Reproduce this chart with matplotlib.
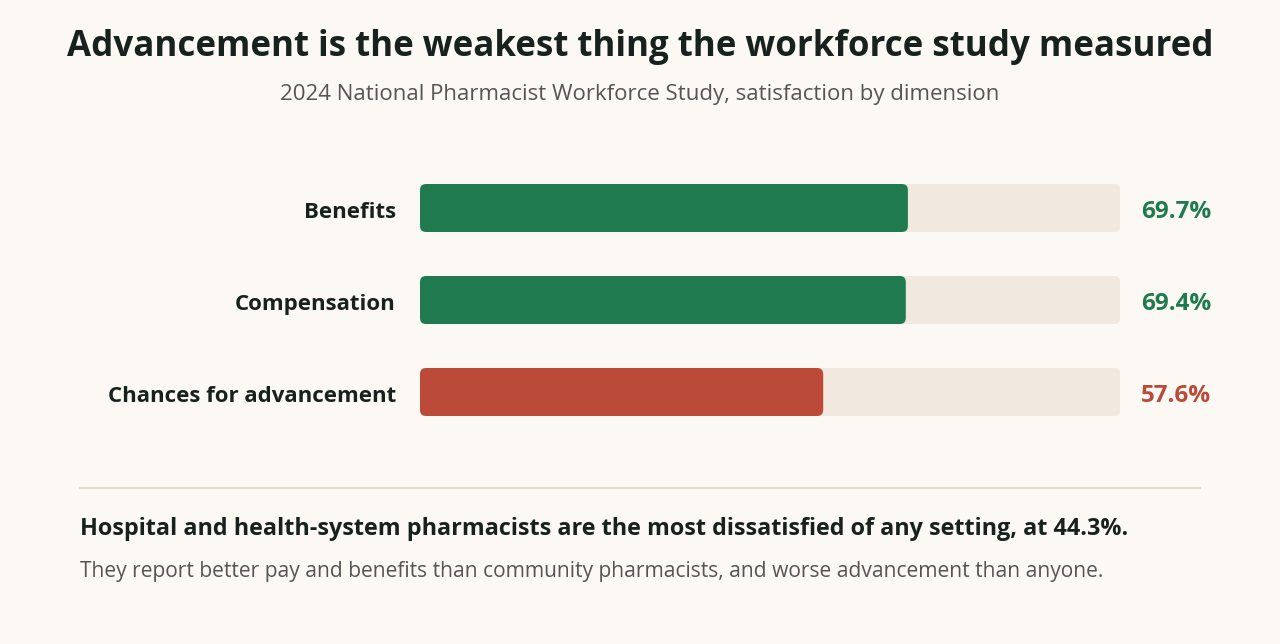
import matplotlib
matplotlib.use("Agg")
import matplotlib.pyplot as plt
from matplotlib.patches import FancyBboxPatch
from matplotlib.lines import Line2D

categories = ["Benefits", "Compensation", "Chances for advancement"]
values = [69.7, 69.4, 57.6]
value_labels = ["69.7%", "69.4%", "57.6%"]
highlight = [False, False, True]

title = "Advancement is the weakest thing the workforce study measured"
subtitle = "2024 National Pharmacist Workforce Study, satisfaction by dimension"
note_bold = "Hospital and health-system pharmacists are the most dissatisfied of any setting, at 44.3%."
note = "They report better pay and benefits than community pharmacists, and worse advancement than anyone."

BG = "#fcf9f4"
TRACK = "#f1e9e0"
GREEN = "#1f7a4f"
RED = "#bb4a39"
DARK = "#17221f"
GREY = "#555555"
RULE = "#e2dacb"

plt.rcParams["font.family"] = ["Open Sans", "DejaVu Sans"]

W, H = 1280, 644
fig = plt.figure(figsize=(W / 100, H / 100), dpi=100, facecolor=BG)

def px(x, y):
    return x / W, 1 - y / H

fig.text(*px(640, 56), title, ha="center", va="baseline", fontsize=25.1,
         fontweight="bold", color=DARK)
fig.text(*px(640, 100), subtitle, ha="center", va="baseline", fontsize=16, color=GREY)

# bar panel: 0..100 maps to 420..1120 px, rows every 92 px
ax = fig.add_axes([420 / W, 1 - 438 / H, 700 / W, 276 / H])
ax.set_xlim(0, 100)
ax.set_ylim(2.5, -0.5)
ax.axis("off")

bar_h = 48 / 92
aspect = (1 / 92) / (1 / 7)
rad = 6 / 7
for i, (cat, v, lab, hl) in enumerate(zip(categories, values, value_labels, highlight)):
    col = RED if hl else GREEN
    track = FancyBboxPatch((0, i - bar_h / 2), 100, bar_h,
                           boxstyle=f"round,pad=0,rounding_size={rad}",
                           mutation_aspect=aspect, fc=TRACK, ec="none")
    ax.add_patch(track)
    bar = FancyBboxPatch((0, i - bar_h / 2), v, bar_h,
                         boxstyle=f"round,pad=0,rounding_size={rad}",
                         mutation_aspect=aspect, fc=col, ec="none")
    ax.add_patch(bar)
    ax.annotate(cat, xy=(0, i), xytext=(-24 * 0.72, -10 * 0.72), textcoords="offset points",
                ha="right", va="baseline", fontsize=16, fontweight="bold", color=DARK)
    ax.annotate(lab, xy=(100, i), xytext=(21 * 0.72, -10 * 0.72), textcoords="offset points",
                ha="left", va="baseline", fontsize=17.5, fontweight="bold", color=col)

x0, y0 = px(80, 488)
x1, _ = px(1200, 488)
fig.add_artist(Line2D([x0, x1], [y0, y0], color=RULE, lw=1.5))

fig.text(*px(80, 535), note_bold, ha="left", va="baseline", fontsize=16.8,
         fontweight="bold", color=DARK)
fig.text(*px(80, 577), note, ha="left", va="baseline", fontsize=15.1, color=GREY)

fig.savefig("out.png", dpi=100, facecolor=BG)
